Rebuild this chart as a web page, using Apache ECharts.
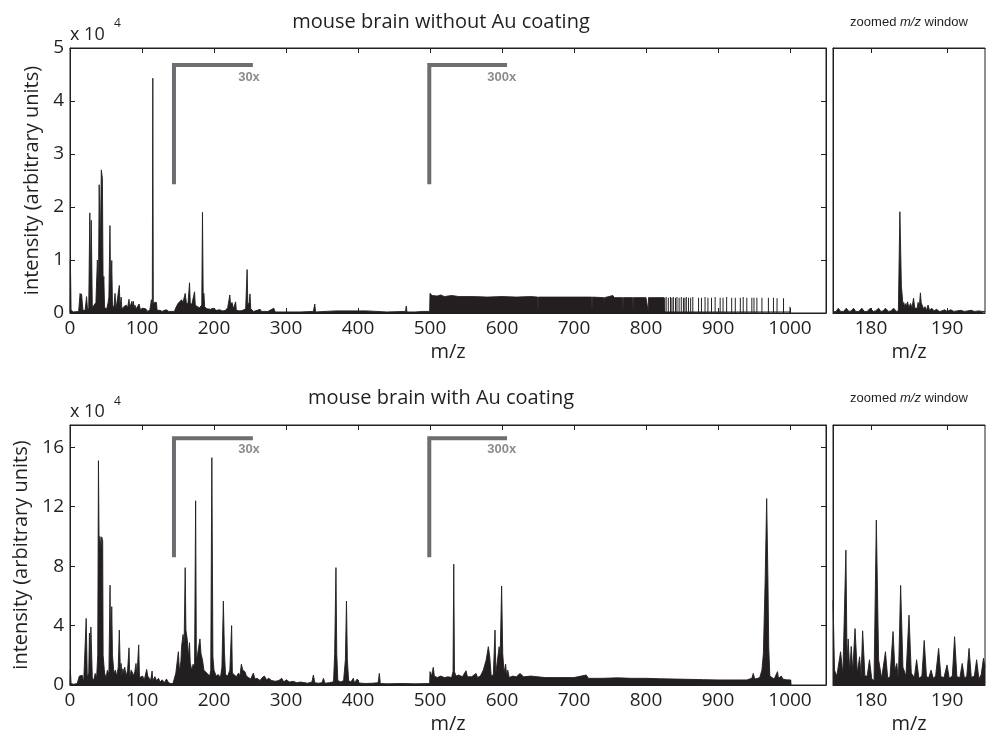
<!DOCTYPE html>
<html>
<head>
<meta charset="utf-8">
<script src="https://cdn.jsdelivr.net/npm/echarts@6/dist/echarts.min.js"></script>
<style>
html,body{margin:0;padding:0;background:#fff;}
#chart{width:989px;height:738px;}
</style>
</head>
<body>
<div id="chart"></div>
<script>
// ---------- DATA (intensities in units of 10^4) ----------
var titleTop = 'mouse brain without Au coating';
var titleBottom = 'mouse brain with Au coating';
var xTicksMain = [0,100,200,300,400,500,600,700,800,900,1000];
var xTicksZoom = [180,190];
var yTicksTop = [0,1,2,3,4,5];
var yTicksBottom = [0,4,8,12,16];

// top spectrum (without Au): [m/z, intensity]
var topSpectrum = [[0,0],[0.5,1.0],[1.5,0.05],[5,0.02],[12,0.03],[14,0.37],[15,0.3],[16,0.36],[18,0.05],[21,0.05],[23,0.31],[24.5,0.05],[26,0.1],[27.5,1.89],[28.5,0.6],[29.5,1.75],[31,0.1],[33,0.08],[36,0.2],[38,1.0],[39.5,0.4],[40.5,2.42],[42,1.2],[43.5,2.7],[45,2.54],[46,0.5],[47,0.69],[48,0.1],[51,0.08],[53,0.2],[54,0.3],[55.5,1.65],[56.5,0.4],[58,0.99],[59,0.15],[61,0.1],[62.5,0.37],[64,0.08],[66,0.1],[68.5,0.52],[69.5,0.1],[71,0.3],[72,0.08],[75,0.12],[78,0.15],[80,0.1],[82,0.26],[83,0.1],[86,0.22],[87,0.12],[88,0.22],[89,0.08],[90,0.15],[92,0.08],[94,0.1],[96,0.17],[98,0.05],[100,0.09],[102,0.06],[105,0.08],[108,0.03],[111,0.06],[113,0.25],[114.3,0.1],[115,4.43],[115.7,0.15],[117,0.2],[118.5,0.18],[120,0.2],[121,0.05],[125,0.05],[128,0.03],[131,0.05],[134,0.06],[137,0.03],[145,0.03],[147,0.1],[150,0.18],[152,0.15],[155,0.25],[157,0.2],[160,0.37],[162,0.15],[164,0.2],[166,0.57],[167,0.2],[169,0.15],[171,0.12],[173,0.4],[174,0.15],[177,0.12],[180,0.1],[183,0.15],[184,1.9],[185,0.3],[186,0.37],[187,0.12],[190,0.08],[195,0.07],[199,0.09],[203,0.05],[208,0.06],[212,0.04],[216,0.05],[219,0.1],[222,0.34],[223,0.15],[225,0.2],[227,0.08],[230,0.21],[231,0.05],[236,0.04],[240,0.05],[244,0.08],[246,0.82],[247,0.15],[249,0.2],[250,0.36],[251,0.08],[255,0.03],[260,0.05],[264,0.07],[266,0.03],[275,0.03],[283,0.09],[285,0.02],[300,0.02],[320,0.02],[338,0.03],[340,0.17],[341,0.02],[369,0.04],[370,0.02],[412,0.04],[413,0.02],[440,0.02],[466,0.03],[467,0.13],[468,0.02],[480,0.02],[490,0.03],[499.5,0.03],[500,0.37],[503,0.33],[505,0.36],[510,0.32],[515,0.34],[520,0.31],[530,0.33],[540,0.31],[560,0.31],[580,0.3],[600,0.31],[620,0.3],[640,0.31],[649.5,0.3],[650,0.03],[650.5,0.3],[660,0.3],[680,0.3],[700,0.3],[720,0.3],[724.5,0.3],[725,0.03],[725.5,0.3],[741.5,0.29],[742,0.03],[742.5,0.29],[754,0.33],[756,0.29],[767.5,0.29],[768,0.03],[768.5,0.29],[781.5,0.29],[782,0.03],[782.5,0.29],[800,0.29],[802.5,0.29],[803,0.03],[803.5,0.29],[825,0.29],[825.5,0.02],[1000,0.02],[1001,0]];
// isolated spectral lines above m/z 825 (top panel)
var topLines = [[826,0.29],[828,0.3],[831,0.29],[834,0.3],[836,0.29],[838,0.3],[841,0.29],[843,0.3],[846,0.29],[849,0.3],[852,0.29],[854,0.29],[856,0.3],[859,0.29],[862,0.29],[865,0.3],[873,0.29],[877,0.29],[882,0.3],[886,0.29],[891,0.29],[896,0.3],[903,0.29],[907,0.29],[912,0.3],[919,0.29],[924,0.29],[931,0.29],[935,0.3],[940,0.29],[947,0.29],[950,0.29],[954,0.29],[961,0.29],[970,0.29],[977,0.29],[982,0.28],[991,0.28],[1000,0.12]];
// top zoomed window 175-195
var topZoom = [[175,0.02],[175.4,0.03],[175.7,0.09],[176,0.03],[176.4,0.03],[176.75,0.09],[177.1,0.03],[177.4,0.04],[177.7,0.09],[178,0.03],[178.4,0.03],[178.8,0.09],[179.1,0.03],[179.5,0.03],[179.9,0.09],[180.3,0.03],[180.6,0.04],[181.0,0.09],[181.3,0.03],[181.6,0.04],[181.9,0.09],[182.3,0.03],[182.6,0.04],[183.0,0.09],[183.3,0.03],[183.6,0.04],[183.8,1.91],[184.0,0.5],[184.1,0.34],[184.2,0.15],[184.3,0.2],[184.45,0.12],[184.6,0.18],[184.7,0.1],[184.8,0.21],[185.0,0.1],[185.2,0.18],[185.4,0.1],[185.6,0.28],[185.75,0.1],[185.9,0.09],[186.05,0.08],[186.2,0.2],[186.35,0.1],[186.5,0.38],[186.6,0.2],[186.7,0.2],[186.9,0.08],[187.1,0.12],[187.3,0.05],[187.5,0.15],[187.7,0.05],[188.0,0.09],[188.3,0.04],[188.6,0.07],[189.0,0.03],[189.3,0.04],[189.7,0.06],[190.0,0.03],[190.5,0.06],[190.9,0.03],[191.3,0.04],[191.8,0.05],[192.3,0.03],[192.7,0.04],[193.2,0.05],[193.6,0.03],[194.2,0.04],[194.6,0.03],[195,0.03]];

// bottom spectrum (with Au)
var bottomSpectrum = [[0,0],[0.5,1.0],[1.5,0.1],[5,0.05],[10,0.1],[13,0.6],[15,0.67],[17,0.65],[19,0.2],[21,0.2],[22.5,4.48],[24,0.5],[26,0.8],[27,3.5],[28,1.5],[29,3.9],[30,3.8],[31,0.5],[33,0.3],[35,0.78],[37,0.5],[38.5,2.0],[39.5,15.1],[40.5,9.0],[41.5,10.0],[43,9.2],[44,9.97],[45.4,9.7],[46,2.0],[47,1.9],[48,0.8],[50,0.5],[52,1.0],[54,0.7],[55.6,6.72],[56.5,2.5],[58,5.27],[59,2.0],[60,2.1],[61,0.8],[63,1.0],[65,0.6],[67,1.2],[68.5,3.7],[70,0.8],[71,1.45],[72,0.6],[73.5,1.1],[75,0.8],[76,1.2],[78,0.6],[80,1.0],[82,2.5],[83,0.5],[85,1.0],[87,0.8],[88,0.6],[90,0.9],[91.7,1.45],[93,0.6],[95.4,2.7],[96.5,0.5],[99,0.5],[101,0.6],[103,0.3],[106.5,1.05],[108,0.6],[110,0.6],[112,0.3],[114,0.94],[115,0.3],[118,0.56],[120,0.3],[123,0.45],[125,0.2],[128,0.35],[131,0.15],[134,0.4],[137,0.15],[140,0.1],[143,0.1],[145,0.1],[147,0.8],[150.5,2.24],[152,0.9],[154,1.6],[155,2.6],[157,3.4],[158.5,2.8],[160,7.9],[161,3.7],[163,3.0],[164.5,1.9],[166,2.85],[167,1.5],[169,1.0],[171,1.4],[173,1.2],[174.5,12.4],[175.5,1.7],[177,2.0],[178.5,2.5],[180.5,3.1],[182,2.1],[184,1.7],[186,1.0],[188,0.9],[190,0.8],[192,0.9],[194,0.6],[195.5,1.0],[197,15.3],[198.5,1.9],[200,1.0],[203,0.6],[206,0.7],[209,0.5],[211,1.2],[213,5.65],[214.5,2.2],[216,0.7],[219,0.6],[222,1.0],[224.5,4.0],[225.5,0.8],[228,0.7],[231,0.56],[234,0.8],[236,0.6],[238,1.4],[240,1.0],[243,0.9],[245,0.6],[248,0.5],[251,0.4],[254.6,0.8],[257,0.4],[260,0.45],[264,0.3],[267,0.5],[270,0.6],[273,0.35],[276,0.45],[280,0.3],[285,0.25],[290,0.3],[294,0.45],[297,0.2],[300,0.35],[305,0.2],[310,0.25],[315,0.15],[320,0.2],[330,0.12],[336,0.2],[338,0.67],[340,0.15],[345,0.12],[350,0.15],[352,0.45],[354,0.12],[360,0.15],[366,0.22],[367.6,2.1],[369.4,7.9],[370.5,2.1],[372,0.3],[376,0.2],[380,0.3],[382.5,1.7],[384,5.65],[385.2,1.7],[387,0.3],[390,0.2],[393.5,0.45],[395,0.15],[399,0.4],[400,0.15],[405,0.12],[410,0.1],[420,0.12],[428,0.15],[429.6,0.78],[431,0.1],[440,0.08],[460,0.1],[480,0.08],[499.5,0.1],[500,0.9],[502,0.6],[504.6,1.19],[506,0.6],[510,0.5],[515,0.6],[520,0.5],[525,0.55],[530,0.5],[532,0.9],[533,8.13],[534,0.9],[536,0.6],[540,0.67],[545,0.55],[550,0.96],[552,0.55],[558,0.56],[564,0.78],[566,0.5],[570,0.6],[574,1.0],[578,1.68],[581,2.58],[583,1.9],[585,0.6],[588,0.7],[590.3,3.7],[591.5,0.8],[594,0.9],[596,2.58],[597.5,2.0],[599.5,6.66],[601,2.1],[603,0.8],[605,1.41],[606.5,0.6],[608,1.0],[610,0.5],[615,0.6],[620,0.55],[625,0.78],[630,0.55],[640,0.6],[650,0.55],[660,0.5],[680,0.5],[700,0.5],[717,0.67],[720,0.45],[740,0.45],[760,0.48],[780,0.45],[800,0.45],[820,0.42],[840,0.4],[860,0.38],[880,0.36],[900,0.34],[920,0.34],[940,0.34],[947,0.45],[949,0.78],[951,0.4],[955,0.45],[958,0.5],[961,1.0],[963,2.1],[965.5,7.06],[967.6,12.55],[969.4,6.95],[970.5,2.5],[972,0.6],[975,0.5],[978,0.4],[982.6,0.9],[984,0.45],[988,0.6],[990,0.4],[995,0.35],[1001,0.34],[1001.5,0]];
// bottom zoomed window 175-195
var bottomZoom = [[175,5.7],[175.2,1.0],[175.5,0.6],[176,2.24],[176.3,0.7],[176.7,9.08],[176.85,1.5],[177,3.1],[177.2,0.9],[177.4,2.6],[177.6,0.9],[177.9,3.8],[178.2,0.8],[178.5,1.9],[178.7,0.6],[178.9,3.65],[179.2,0.6],[179.5,0.6],[179.8,1.7],[180.1,0.4],[180.4,0.3],[180.7,11.1],[181,1.7],[181.4,0.45],[181.9,2.24],[182.2,0.45],[182.5,0.56],[182.9,3.6],[183.15,1.0],[183.4,1.45],[183.6,0.3],[183.9,6.7],[184.2,1.2],[184.6,0.6],[185,4.7],[185.3,0.8],[185.7,0.5],[186,1.7],[186.3,0.45],[186.7,0.6],[187,3.0],[187.3,0.56],[187.6,0.5],[187.9,1.0],[188.2,0.45],[188.5,0.6],[188.9,2.46],[189.2,0.56],[189.6,0.5],[190,1.35],[190.3,0.45],[190.7,0.6],[191,3.25],[191.3,0.56],[191.7,0.5],[192,1.45],[192.3,0.45],[192.6,0.6],[192.9,2.46],[193.2,0.5],[193.6,0.6],[193.9,1.7],[194.2,0.4],[194.5,0.7],[194.8,1.8],[195,1.2]];

// scale-change brackets (m/z, intensity)
var bracket30Top = [[144.4,2.43],[144.4,4.68],[254,4.68]];
var bracket300Top = [[499,2.43],[499,4.68],[607,4.68]];
var bracket30Bottom = [[144.4,8.6],[144.4,16.6],[254,16.6]];
var bracket300Bottom = [[499,8.6],[499,16.6],[607,16.6]];
var bracketLabelsTop = [[248.6,4.45,'30x'],[599.6,4.45,'300x']];
var bracketLabelsBottom = [[248.6,15.87,'30x'],[599.6,15.87,'300x']];

// ---------- STYLE ----------
var INK = '#231f20';
var GRAY = '#6d6e71';
var FONT = 'Open Sans';
var chart = echarts.init(document.getElementById('chart'), null, {renderer:'canvas'});
function plain(v){ return String(v); }

function xMain(gi, pos, showLabel, name) {
  return {
    type:'value', gridIndex:gi, position:pos, min:0, max:1050,
    axisLine:{show:true, onZero:false, lineStyle:{color:INK, width:1}},
    axisTick:{show:true, inside:true, length:5, customValues:xTicksMain, lineStyle:{color:INK}},
    axisLabel:{show:showLabel, customValues:xTicksMain, formatter:plain, color:INK, fontFamily:FONT, fontSize:19, margin:6},
    splitLine:{show:false},
    name:name||'', nameLocation:'middle', nameGap:29,
    nameTextStyle:{color:INK, fontFamily:FONT, fontSize:20}
  };
}
function xZoom(gi, pos, showLabel, name) {
  return {
    type:'value', gridIndex:gi, position:pos, min:175, max:195,
    axisLine:{show:true, onZero:false, lineStyle:{color:INK, width:1}},
    axisTick:{show:true, inside:true, length:5, customValues:xTicksZoom, lineStyle:{color:INK}},
    axisLabel:{show:showLabel, customValues:xTicksZoom, formatter:plain, color:INK, fontFamily:FONT, fontSize:19, margin:6},
    splitLine:{show:false},
    name:name||'', nameLocation:'middle', nameGap:29,
    nameTextStyle:{color:INK, fontFamily:FONT, fontSize:20}
  };
}
function yMain(gi, pos, max, ticks, showLabel, name, gap) {
  return {
    type:'value', gridIndex:gi, position:pos, min:0, max:max,
    axisLine:{show:true, onZero:false, lineStyle:{color:INK, width:1}},
    axisTick:{show:true, inside:true, length:5, customValues:ticks, lineStyle:{color:INK}},
    axisLabel:{show:showLabel, customValues:ticks, formatter:plain, color:INK, fontFamily:FONT, fontSize:19, margin:6},
    splitLine:{show:false},
    name:name||'', nameLocation:'middle', nameGap:gap||0,
    nameTextStyle:{color:INK, fontFamily:FONT, fontSize:20}
  };
}
function yHidden(gi, max) {
  return {type:'value', gridIndex:gi, min:0, max:max, axisLine:{show:true, onZero:false, lineStyle:{color:INK}},
    axisTick:{show:false}, axisLabel:{show:false}, splitLine:{show:false}};
}
function spectrum(data, xi, yi) {
  return {type:'line', xAxisIndex:xi, yAxisIndex:yi, data:data, showSymbol:false, symbol:'none',
    lineStyle:{color:INK, width:0.9}, areaStyle:{color:INK, opacity:1}, silent:true, animation:false, z:3};
}
function bracket(data, xi, yi) {
  return {type:'line', xAxisIndex:xi, yAxisIndex:yi, data:data, showSymbol:false, symbol:'none',
    lineStyle:{color:GRAY, width:4, cap:'butt', join:'miter'}, silent:true, animation:false, z:4};
}
function bracketText(data, xi, yi) {
  return {type:'scatter', xAxisIndex:xi, yAxisIndex:yi, data:data, symbolSize:0, silent:true, animation:false, z:5,
    label:{show:true, position:'inside', formatter:function(p){return p.value[2];},
      color:GRAY, fontFamily:'Liberation Sans', fontWeight:'bold', fontSize:13}};
}

var option = {
  backgroundColor:'#fff',
  animation:false,
  grid:[
    {left:70, top:48, width:756, height:265, show:true, borderColor:INK, borderWidth:1},
    {left:833, top:48, width:152, height:265, show:true, borderColor:INK, borderWidth:1},
    {left:70, top:425, width:756, height:260, show:true, borderColor:INK, borderWidth:1},
    {left:833, top:425, width:152, height:260, show:true, borderColor:INK, borderWidth:1}
  ],
  xAxis:[
    xMain(0,'bottom',true,'m/z'),
    xMain(0,'top',false),
    xZoom(1,'bottom',true,'m/z'),
    xZoom(1,'top',false),
    xMain(2,'bottom',true,'m/z'),
    xMain(2,'top',false),
    xZoom(3,'bottom',true,'m/z'),
    xZoom(3,'top',false)
  ],
  yAxis:[
    yMain(0,'left',5,yTicksTop,true,'intensity (arbitrary units)',25),
    yMain(0,'right',5,yTicksTop,false),
    yHidden(1,5),
    yMain(2,'left',17.5,yTicksBottom,true,'intensity (arbitrary units)',36),
    yMain(2,'right',17.5,yTicksBottom,false),
    yHidden(3,17.5)
  ],
  series:[
    spectrum(topSpectrum,0,0),
    {type:'bar', xAxisIndex:0, yAxisIndex:0, data:topLines, barWidth:1, itemStyle:{color:INK}, silent:true, animation:false, z:3},
    spectrum(topZoom,2,2),
    spectrum(bottomSpectrum,4,3),
    spectrum(bottomZoom,6,5),
    bracket(bracket30Top,0,0), bracket(bracket300Top,0,0),
    bracket(bracket30Bottom,4,3), bracket(bracket300Bottom,4,3),
    bracketText(bracketLabelsTop,0,0), bracketText(bracketLabelsBottom,4,3)
  ],
  graphic:[
    {type:'text', x:441, y:22, style:{text:titleTop, fill:INK, font:'20px "Open Sans"', textAlign:'center', textVerticalAlign:'middle'}},
    {type:'text', x:441, y:398, style:{text:titleBottom, fill:INK, font:'20px "Open Sans"', textAlign:'center', textVerticalAlign:'middle'}},
    {type:'text', x:909, y:22, style:{rich:{n:{fontFamily:'Liberation Sans', fontSize:13, fill:INK}, i:{fontFamily:'Liberation Sans', fontSize:13, fontStyle:'italic', fill:INK}}, text:'{n|zoomed }{i|m/z}{n| window}', textAlign:'center', textVerticalAlign:'middle'}},
    {type:'text', x:909, y:398, style:{rich:{n:{fontFamily:'Liberation Sans', fontSize:13, fill:INK}, i:{fontFamily:'Liberation Sans', fontSize:13, fontStyle:'italic', fill:INK}}, text:'{n|zoomed }{i|m/z}{n| window}', textAlign:'center', textVerticalAlign:'middle'}},
    {type:'text', x:70, y:35, style:{text:'x 10', fill:INK, font:'18px "Open Sans"', textAlign:'left', textVerticalAlign:'middle'}},
    {type:'text', x:114, y:24, style:{text:'4', fill:INK, font:'12px "Open Sans"', textAlign:'left', textVerticalAlign:'middle'}},
    {type:'text', x:70, y:412, style:{text:'x 10', fill:INK, font:'18px "Open Sans"', textAlign:'left', textVerticalAlign:'middle'}},
    {type:'text', x:114, y:402, style:{text:'4', fill:INK, font:'12px "Open Sans"', textAlign:'left', textVerticalAlign:'middle'}}
  ]
};
chart.setOption(option);
</script>
</body>
</html>
